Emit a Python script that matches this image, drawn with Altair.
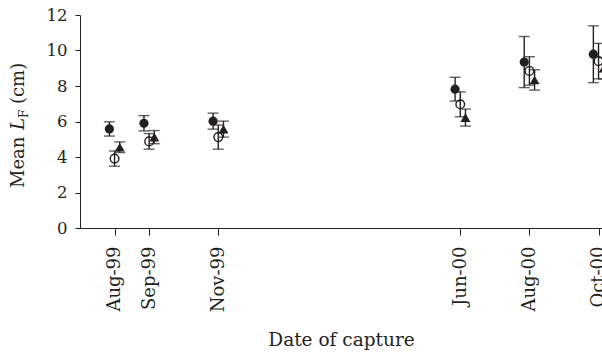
import altair as alt
import pandas as pd

# months counted from Jul-99 (= 0)
months = [1, 2, 4, 11, 13, 15]
month_labels = ["Aug-99", "Sep-99", "Nov-99", "Jun-00", "Aug-00", "Oct-00"]

filled_mean = [5.58, 5.90, 6.02, 7.82, 9.35, 9.79]
filled_err = [0.40, 0.43, 0.45, 0.67, 1.44, 1.60]
open_mean = [3.91, 4.88, 5.12, 6.97, 8.85, 9.40]
open_err = [0.43, 0.44, 0.68, 0.70, 0.80, 1.00]
tri_mean = [4.55, 5.12, 5.57, 6.22, 8.34, 9.00]
tri_err = [0.30, 0.37, 0.45, 0.48, 0.57, 0.60]

rows = []
for s, means, errs in [("A", filled_mean, filled_err),
                       ("B", open_mean, open_err),
                       ("C", tri_mean, tri_err)]:
    for m, v, e in zip(months, means, errs):
        rows.append({"series": s, "month": m, "mean": v, "err": e})
df = pd.DataFrame(rows)

INK = "#231f20"
FONT = "DejaVu Serif"

lab_arr = [""] * 16
for m, l in zip(months, month_labels):
    lab_arr[m] = l
label_expr = "[" + ",".join("'%s'" % l for l in lab_arr) + "][datum.value]"

x_enc = alt.X(
    "xpos:Q",
    scale=alt.Scale(domain=[0, 15.1], nice=False, zero=False),
    axis=alt.Axis(
        values=months, labelExpr=label_expr, labelAngle=270,
        labelAlign="right", labelBaseline="middle", labelPadding=11,
        labelFont=FONT, labelFontSize=18, labelColor=INK,
        labelOverlap=False, labelFlush=False, labelBound=False,
        tickSize=7, tickColor=INK, domainColor=INK, grid=False,
        title="Date of capture", titleFont=FONT, titleFontSize=18.5,
        titleFontWeight="normal", titleColor=INK, titleY=117,
        titleBaseline="alphabetic",
    ),
)

y_scale = alt.Scale(domain=[0, 12], nice=False, zero=True)
y_axis = alt.Axis(
    values=list(range(0, 13, 2)), title=None, grid=False,
    tickSize=5, tickColor=INK, domainColor=INK,
    labelFont=FONT, labelFontSize=16.5, labelColor=INK, labelPadding=8,
)

base = alt.Chart(df).transform_calculate(
    xpos="datum.month + (datum.series === 'A' ? -0.15 : (datum.series === 'C' ? 0.15 : 0))",
    lo="datum.mean - datum.err",
    hi="datum.mean + datum.err",
)

rules = base.mark_rule(color=INK, strokeWidth=1.4).encode(
    x=x_enc, y=alt.Y("lo:Q", scale=y_scale, axis=y_axis), y2="hi:Q"
)
cap_hi = base.mark_tick(orient="horizontal", size=11, thickness=1.4, color=INK).encode(
    x=x_enc, y=alt.Y("hi:Q", scale=y_scale, axis=y_axis)
)
cap_lo = base.mark_tick(orient="horizontal", size=11, thickness=1.4, color=INK).encode(
    x=x_enc, y=alt.Y("lo:Q", scale=y_scale, axis=y_axis)
)
pt_a = base.transform_filter("datum.series === 'A'").mark_point(
    shape="circle", filled=True, size=85, color=INK, opacity=1
).encode(x=x_enc, y=alt.Y("mean:Q", scale=y_scale, axis=y_axis))
pt_b = base.transform_filter("datum.series === 'B'").mark_point(
    shape="circle", filled=False, size=75, color=INK, strokeWidth=1.4, opacity=1
).encode(x=x_enc, y=alt.Y("mean:Q", scale=y_scale, axis=y_axis))
pt_c = base.transform_filter("datum.series === 'C'").mark_point(
    shape="triangle-up", filled=True, size=100, color=INK, opacity=1
).encode(x=x_enc, y=alt.Y("mean:Q", scale=y_scale, axis=y_axis))


def piece(txt, xv, yv, size=18, style="normal"):
    return alt.Chart(alt.Data(values=[{}])).mark_text(
        text=txt, angle=270, align="left", baseline="alphabetic",
        font=FONT, fontSize=size, fontStyle=style, color=INK,
    ).encode(x=alt.value(xv), y=alt.value(yv))


title_parts = [
    piece("Mean", -56.5, 173),
    piece("L", -56.5, 115, style="italic"),
    piece("F", -52.5, 103, size=12),
    piece("(cm)", -56.5, 89),
]

chart = alt.layer(rules, cap_hi, cap_lo, pt_a, pt_b, pt_c, *title_parts).properties(
    width=522, height=213,
    autosize=alt.AutoSizeParams(type="none"),
    padding={"left": 80, "top": 15, "right": 0, "bottom": 126},
).configure_view(stroke=None)

chart.save("out.html", embed_options={"renderer": "svg", "actions": False})
